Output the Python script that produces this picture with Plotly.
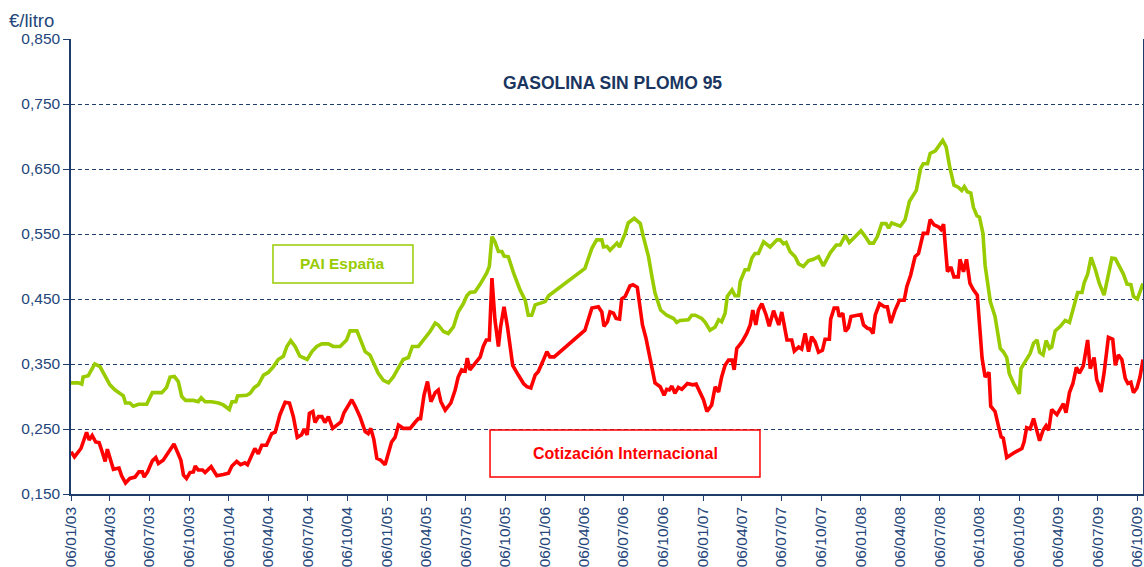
import plotly.graph_objects as go

# ---------------- data ----------------
pai_dates = [
    "2003-01-06", "2003-01-23", "2003-01-31", "2003-02-03", "2003-02-15", "2003-03-02", "2003-03-14", "2003-03-22",
    "2003-04-06", "2003-04-18", "2003-05-07", "2003-05-12", "2003-05-22", "2003-05-30", "2003-06-11", "2003-06-30",
    "2003-07-13", "2003-08-04", "2003-08-15", "2003-08-23", "2003-09-02", "2003-09-11", "2003-09-19", "2003-09-28",
    "2003-10-16", "2003-10-27", "2003-11-03", "2003-11-12", "2003-11-27", "2003-12-13", "2003-12-24",
    "2004-01-07", "2004-01-13", "2004-01-22", "2004-01-26", "2004-02-16", "2004-02-24", "2004-03-05", "2004-03-14",
    "2004-03-26", "2004-04-06", "2004-04-18", "2004-04-29", "2004-05-11", "2004-05-19", "2004-05-28", "2004-06-07",
    "2004-06-18", "2004-07-05", "2004-07-16", "2004-07-27", "2004-08-08", "2004-08-23", "2004-09-03", "2004-09-19",
    "2004-10-04", "2004-10-12", "2004-10-28", "2004-11-04", "2004-11-16", "2004-11-27", "2004-12-09", "2004-12-16",
    "2004-12-28",
    "2005-01-09", "2005-01-20", "2005-02-01", "2005-02-12", "2005-02-24", "2005-03-05", "2005-03-19", "2005-03-31",
    "2005-04-15", "2005-04-27", "2005-05-04", "2005-05-16", "2005-05-27", "2005-06-08", "2005-06-19", "2005-07-01",
    "2005-07-09", "2005-07-16", "2005-07-28", "2005-08-09", "2005-08-24", "2005-08-30", "2005-09-05", "2005-09-12",
    "2005-09-20", "2005-09-28", "2005-10-03", "2005-10-13", "2005-10-25", "2005-11-09", "2005-11-21", "2005-11-28",
    "2005-12-06", "2005-12-14",
    "2006-01-06", "2006-01-14", "2006-04-08", "2006-04-24", "2006-05-05", "2006-05-17", "2006-05-21", "2006-05-29",
    "2006-06-05", "2006-06-21", "2006-06-27", "2006-07-10", "2006-07-17", "2006-07-31", "2006-08-14", "2006-08-21",
    "2006-09-02", "2006-09-10", "2006-09-17", "2006-09-30", "2006-10-14", "2006-10-30", "2006-11-06", "2006-11-14",
    "2006-12-03", "2006-12-11", "2006-12-19",
    "2007-01-03", "2007-01-11", "2007-01-22", "2007-02-03", "2007-02-11", "2007-02-18", "2007-02-26", "2007-03-03",
    "2007-03-14", "2007-03-21", "2007-03-29", "2007-04-02", "2007-04-13", "2007-04-21", "2007-04-29", "2007-05-06",
    "2007-05-14", "2007-05-26", "2007-06-10", "2007-06-26", "2007-07-03", "2007-07-11", "2007-07-17", "2007-07-26",
    "2007-08-07", "2007-08-15", "2007-08-26", "2007-09-07", "2007-09-18", "2007-09-30", "2007-10-11", "2007-10-27",
    "2007-11-10", "2007-11-19", "2007-12-01", "2007-12-10", "2007-12-24",
    "2008-01-06", "2008-01-16", "2008-01-26", "2008-02-04", "2008-02-13", "2008-02-23", "2008-03-04", "2008-03-10",
    "2008-03-17", "2008-04-06", "2008-04-17", "2008-04-27", "2008-05-13", "2008-05-23", "2008-05-29", "2008-06-08",
    "2008-06-14", "2008-06-26", "2008-07-03", "2008-07-13", "2008-07-21", "2008-07-29", "2008-08-08", "2008-08-18",
    "2008-08-26", "2008-09-01", "2008-09-08", "2008-09-16", "2008-09-22", "2008-09-30", "2008-10-06", "2008-10-14",
    "2008-10-19", "2008-10-31", "2008-11-11", "2008-11-23", "2008-11-30", "2008-12-08", "2008-12-14", "2008-12-24",
    "2009-01-06", "2009-01-10", "2009-01-20", "2009-01-31", "2009-02-08", "2009-02-16", "2009-02-22", "2009-03-02",
    "2009-03-09", "2009-03-17", "2009-03-22", "2009-03-30", "2009-04-11", "2009-04-22", "2009-05-02", "2009-05-08",
    "2009-05-15", "2009-05-21", "2009-05-31", "2009-06-05", "2009-06-13", "2009-06-21", "2009-07-01", "2009-07-10",
    "2009-07-21", "2009-07-29", "2009-08-08", "2009-08-16", "2009-08-26", "2009-09-04", "2009-09-12", "2009-09-21",
    "2009-09-27", "2009-10-06", "2009-10-19",
]
pai_values = [
    0.321, 0.321, 0.319, 0.330, 0.332, 0.350, 0.346, 0.336,
    0.318, 0.310, 0.301, 0.290, 0.290, 0.285, 0.288, 0.288,
    0.306, 0.306, 0.314, 0.330, 0.331, 0.323, 0.300, 0.294,
    0.294, 0.292, 0.298, 0.292, 0.292, 0.290, 0.287,
    0.280, 0.292, 0.292, 0.301, 0.302, 0.305, 0.314, 0.318,
    0.333, 0.337, 0.346, 0.357, 0.362, 0.377, 0.386, 0.377,
    0.362, 0.357, 0.369, 0.377, 0.381, 0.381, 0.377, 0.377,
    0.387, 0.401, 0.401, 0.390, 0.369, 0.364, 0.348, 0.336,
    0.325,
    0.321, 0.330, 0.343, 0.357, 0.360, 0.377, 0.377, 0.387,
    0.400, 0.413, 0.410, 0.400, 0.397, 0.407, 0.430, 0.443,
    0.455, 0.460, 0.461, 0.473, 0.490, 0.500, 0.546, 0.538,
    0.523, 0.523, 0.516, 0.515, 0.490, 0.464, 0.448, 0.425,
    0.425, 0.441,
    0.446, 0.455, 0.497, 0.528, 0.541, 0.541, 0.530, 0.531,
    0.525, 0.536, 0.530, 0.551, 0.567, 0.574, 0.566, 0.546,
    0.515, 0.484, 0.459, 0.433, 0.425, 0.420, 0.414, 0.417,
    0.418, 0.425, 0.425,
    0.420, 0.414, 0.402, 0.407, 0.418, 0.415, 0.428, 0.454,
    0.464, 0.455, 0.455, 0.477, 0.495, 0.495, 0.513, 0.520,
    0.520, 0.538, 0.530, 0.541, 0.541, 0.535, 0.537, 0.523,
    0.515, 0.504, 0.500, 0.509, 0.511, 0.515, 0.501, 0.521,
    0.533, 0.533, 0.548, 0.537, 0.546,
    0.555, 0.546, 0.536, 0.536, 0.546, 0.566, 0.566, 0.559,
    0.567, 0.562, 0.572, 0.600, 0.617, 0.651, 0.658, 0.658,
    0.674, 0.678, 0.684, 0.694, 0.684, 0.654, 0.625, 0.622,
    0.617, 0.623, 0.615, 0.613, 0.591, 0.578, 0.576, 0.551,
    0.502, 0.446, 0.423, 0.374, 0.369, 0.360, 0.335, 0.320,
    0.304, 0.343, 0.354, 0.366, 0.382, 0.387, 0.368, 0.364,
    0.386, 0.374, 0.376, 0.401, 0.408, 0.417, 0.414, 0.428,
    0.441, 0.460, 0.460, 0.475, 0.488, 0.514, 0.495, 0.474,
    0.456, 0.484, 0.513, 0.512, 0.500, 0.488, 0.473, 0.472,
    0.454, 0.450, 0.474,
]

cot_dates = [
    "2003-01-06", "2003-01-14", "2003-01-29", "2003-02-06", "2003-02-11", "2003-02-17", "2003-02-24", "2003-03-04",
    "2003-03-12", "2003-03-19", "2003-03-26", "2003-03-31", "2003-04-06", "2003-04-14", "2003-04-27", "2003-05-03",
    "2003-05-12", "2003-05-22", "2003-06-03", "2003-06-12", "2003-06-20", "2003-06-24", "2003-07-02", "2003-07-13",
    "2003-07-21", "2003-07-27", "2003-08-07", "2003-08-19", "2003-09-01", "2003-09-10", "2003-09-17", "2003-09-23",
    "2003-09-30", "2003-10-08", "2003-10-16", "2003-10-20", "2003-10-27", "2003-11-06", "2003-11-12", "2003-11-26",
    "2003-12-09", "2003-12-24",
    "2004-01-05", "2004-01-13", "2004-01-24", "2004-02-02", "2004-02-12", "2004-02-18", "2004-02-24", "2004-03-06",
    "2004-03-14", "2004-03-22", "2004-04-02", "2004-04-14", "2004-04-22", "2004-05-03", "2004-05-15", "2004-05-25",
    "2004-06-03", "2004-06-12", "2004-06-22", "2004-06-28", "2004-07-05", "2004-07-10", "2004-07-18", "2004-07-23",
    "2004-07-31", "2004-08-08", "2004-08-15", "2004-08-23", "2004-09-02", "2004-09-13", "2004-09-21", "2004-09-28",
    "2004-10-08", "2004-10-16", "2004-10-24", "2004-11-04", "2004-11-16", "2004-11-23", "2004-11-29", "2004-12-06",
    "2004-12-13", "2004-12-22",
    "2005-01-01", "2005-01-09", "2005-01-16", "2005-01-24", "2005-02-01", "2005-02-12", "2005-02-28", "2005-03-11",
    "2005-03-19", "2005-03-24", "2005-04-01", "2005-04-09", "2005-04-17", "2005-04-27", "2005-05-04", "2005-05-10",
    "2005-05-20", "2005-06-02", "2005-06-12", "2005-06-19", "2005-06-27", "2005-07-05", "2005-07-10", "2005-07-16",
    "2005-07-28", "2005-08-09", "2005-08-16", "2005-08-23", "2005-08-30", "2005-09-05", "2005-09-12", "2005-09-20",
    "2005-09-25", "2005-10-03", "2005-10-11", "2005-10-23", "2005-11-05", "2005-11-17", "2005-11-25", "2005-12-04",
    "2005-12-14", "2005-12-21",
    "2006-01-02", "2006-01-10", "2006-01-17", "2006-01-27", "2006-04-08", "2006-04-24", "2006-05-09", "2006-05-17",
    "2006-05-22", "2006-05-30", "2006-06-05", "2006-06-13", "2006-06-19", "2006-06-27", "2006-07-02", "2006-07-10",
    "2006-07-21", "2006-07-28", "2006-08-07", "2006-08-19", "2006-08-27", "2006-09-07", "2006-09-17", "2006-09-29",
    "2006-10-08", "2006-10-14", "2006-10-20", "2006-10-26", "2006-11-02", "2006-11-10", "2006-11-18", "2006-12-01",
    "2006-12-13", "2006-12-21",
    "2007-01-07", "2007-01-15", "2007-01-26", "2007-02-03", "2007-02-11", "2007-02-18", "2007-02-26", "2007-03-06",
    "2007-03-14", "2007-03-19", "2007-03-25", "2007-04-06", "2007-04-17", "2007-04-25", "2007-05-01", "2007-05-08",
    "2007-05-14", "2007-05-22", "2007-06-01", "2007-06-08", "2007-06-18", "2007-06-30", "2007-07-07", "2007-07-19",
    "2007-07-30", "2007-08-05", "2007-08-15", "2007-08-22", "2007-08-30", "2007-09-07", "2007-09-14", "2007-09-22",
    "2007-09-30", "2007-10-09", "2007-10-15", "2007-10-25", "2007-10-28", "2007-11-05", "2007-11-13", "2007-11-17",
    "2007-11-25", "2007-12-01", "2007-12-08", "2007-12-14",
    "2008-01-06", "2008-01-12", "2008-01-21", "2008-01-27", "2008-02-03", "2008-02-08", "2008-02-18", "2008-02-29",
    "2008-03-07", "2008-03-15", "2008-03-25", "2008-04-04", "2008-04-15", "2008-04-21", "2008-04-30", "2008-05-10",
    "2008-05-18", "2008-05-29", "2008-06-08", "2008-06-14", "2008-06-23", "2008-07-03", "2008-07-09", "2008-07-15",
    "2008-07-24", "2008-08-01", "2008-08-08", "2008-08-18", "2008-08-22", "2008-08-30", "2008-09-06", "2008-09-14",
    "2008-09-22", "2008-10-01", "2008-10-06", "2008-10-12", "2008-10-19", "2008-10-28", "2008-11-01", "2008-11-11",
    "2008-11-19", "2008-11-25", "2008-11-30", "2008-12-08", "2008-12-24",
    "2009-01-04", "2009-01-12", "2009-01-17", "2009-01-23", "2009-01-31", "2009-02-08", "2009-02-22", "2009-03-02",
    "2009-03-09", "2009-03-15", "2009-03-22", "2009-04-03", "2009-04-18", "2009-04-24", "2009-05-02", "2009-05-10",
    "2009-05-18", "2009-05-25", "2009-06-03", "2009-06-13", "2009-06-19", "2009-06-28", "2009-07-04", "2009-07-14",
    "2009-07-21", "2009-07-31", "2009-08-10", "2009-08-16", "2009-08-23", "2009-08-31", "2009-09-08", "2009-09-14",
    "2009-09-21", "2009-09-27", "2009-10-05", "2009-10-12", "2009-10-19",
]
cot_values = [
    0.215, 0.207, 0.220, 0.236, 0.245, 0.233, 0.240, 0.230,
    0.229, 0.215, 0.200, 0.219, 0.207, 0.188, 0.190, 0.178,
    0.167, 0.174, 0.176, 0.184, 0.184, 0.176, 0.184, 0.201,
    0.206, 0.197, 0.202, 0.214, 0.227, 0.213, 0.202, 0.179,
    0.174, 0.183, 0.184, 0.193, 0.187, 0.187, 0.183, 0.192,
    0.178, 0.180,
    0.182, 0.193, 0.200, 0.195, 0.198, 0.195, 0.204, 0.220,
    0.212, 0.225, 0.225, 0.243, 0.245, 0.272, 0.291, 0.290,
    0.269, 0.237, 0.241, 0.250, 0.241, 0.274, 0.277, 0.260,
    0.269, 0.269, 0.260, 0.269, 0.251, 0.256, 0.261, 0.275,
    0.287, 0.295, 0.285, 0.269, 0.246, 0.243, 0.251, 0.234,
    0.205, 0.202,
    0.195, 0.215, 0.230, 0.237, 0.256, 0.251, 0.251, 0.260,
    0.266, 0.266, 0.302, 0.323, 0.292, 0.306, 0.310, 0.292,
    0.279, 0.290, 0.310, 0.330, 0.341, 0.339, 0.359, 0.341,
    0.351, 0.361, 0.377, 0.387, 0.387, 0.482, 0.418, 0.377,
    0.407, 0.438, 0.407, 0.348, 0.333, 0.320, 0.315, 0.313,
    0.333, 0.338,
    0.356, 0.369, 0.361, 0.361, 0.402, 0.436, 0.438, 0.430,
    0.408, 0.415, 0.430, 0.428, 0.420, 0.419, 0.450, 0.454,
    0.470, 0.472, 0.468, 0.410, 0.390, 0.351, 0.321, 0.315,
    0.302, 0.311, 0.310, 0.316, 0.305, 0.314, 0.311, 0.320,
    0.318, 0.319,
    0.295, 0.277, 0.287, 0.315, 0.307, 0.330, 0.348, 0.356,
    0.356, 0.341, 0.374, 0.384, 0.397, 0.410, 0.433, 0.410,
    0.433, 0.443, 0.425, 0.408, 0.432, 0.410, 0.430, 0.387,
    0.387, 0.370, 0.376, 0.373, 0.397, 0.369, 0.392, 0.384,
    0.368, 0.371, 0.388, 0.388, 0.419, 0.436, 0.436, 0.423,
    0.428, 0.400, 0.406, 0.423,
    0.426, 0.410, 0.405, 0.404, 0.397, 0.425, 0.443, 0.438,
    0.438, 0.413, 0.433, 0.448, 0.448, 0.469, 0.487, 0.515,
    0.520, 0.551, 0.551, 0.572, 0.564, 0.561, 0.557, 0.565,
    0.492, 0.499, 0.484, 0.484, 0.511, 0.492, 0.511, 0.474,
    0.464, 0.456, 0.418, 0.359, 0.330, 0.337, 0.285, 0.277,
    0.254, 0.238, 0.236, 0.206, 0.213,
    0.218, 0.220, 0.230, 0.252, 0.250, 0.266, 0.232, 0.248,
    0.255, 0.248, 0.280, 0.272, 0.289, 0.275, 0.306, 0.320,
    0.345, 0.336, 0.347, 0.387, 0.343, 0.360, 0.326, 0.307,
    0.336, 0.391, 0.388, 0.348, 0.364, 0.357, 0.328, 0.320,
    0.322, 0.306, 0.313, 0.330, 0.357,
]

tick_dates = [
    "2003-01-06", "2003-04-06", "2003-07-06", "2003-10-06",
    "2004-01-06", "2004-04-06", "2004-07-06", "2004-10-06",
    "2005-01-06", "2005-04-06", "2005-07-06", "2005-10-06",
    "2006-01-06", "2006-04-06", "2006-07-06", "2006-10-06",
    "2007-01-06", "2007-04-06", "2007-07-06", "2007-10-06",
    "2008-01-06", "2008-04-06", "2008-07-06", "2008-10-06",
    "2009-01-06", "2009-04-06", "2009-07-06", "2009-10-06",
]
tick_labels = [
    "06/01/03", "06/04/03", "06/07/03", "06/10/03",
    "06/01/04", "06/04/04", "06/07/04", "06/10/04",
    "06/01/05", "06/04/05", "06/07/05", "06/10/05",
    "06/01/06", "06/04/06", "06/07/06", "06/10/06",
    "06/01/07", "06/04/07", "06/07/07", "06/10/07",
    "06/01/08", "06/04/08", "06/07/08", "06/10/08",
    "06/01/09", "06/04/09", "06/07/09", "06/10/09",
]
y_ticks = [0.150, 0.250, 0.350, 0.450, 0.550, 0.650, 0.750, 0.850]

title_text = "GASOLINA SIN PLOMO 95"
unit_text = "€/litro"
pai_name = "PAI España"
cot_name = "Cotización Internacional"

# ---------------- styles ----------------
NAVY = "#1F3D6B"
TEXT = "#24467A"
GREEN = "#99CC00"
RED = "#FF0000"
FONT = "Liberation Sans, Arial, sans-serif"

fig = go.Figure()
fig.add_trace(go.Scatter(x=pai_dates, y=pai_values, mode="lines", name=pai_name,
                         line=dict(color=GREEN, width=3.6)))
fig.add_trace(go.Scatter(x=cot_dates, y=cot_values, mode="lines", name=cot_name,
                         line=dict(color=RED, width=3.6)))

fig.update_layout(
    width=1144, height=567,
    margin=dict(l=71, r=1, t=39, b=73, autoexpand=False),
    paper_bgcolor="white", plot_bgcolor="white",
    showlegend=False,
    separators=",.",
    font=dict(family=FONT, color=TEXT),
)

fig.update_xaxes(
    type="date",
    range=["2003-01-06", "2009-10-19"],
    tickvals=tick_dates, ticktext=tick_labels,
    tickangle=-90,
    ticklabeloverflow="allow",
    tickfont=dict(size=15.5, color=TEXT, family=FONT),
    showgrid=False, zeroline=False,
    showline=True, linecolor=NAVY, linewidth=1.5,
    ticks="outside", ticklen=5, tickcolor=NAVY, tickwidth=1.2,
)
fig.update_yaxes(
    range=[0.150, 0.850],
    tickvals=y_ticks, tickformat=".3f",
    tickfont=dict(size=15.5, color=TEXT, family=FONT),
    showgrid=True, gridcolor=NAVY, gridwidth=1, griddash="4px,3px",
    zeroline=False,
    showline=True, linecolor=NAVY, linewidth=1.5, mirror=True,
    ticks="outside", ticklen=6, tickcolor=NAVY, tickwidth=1.2,
)

# title & unit
fig.add_annotation(text="<b>" + title_text + "</b>", xref="paper", yref="paper",
                   x=0.5047, y=0.9033, xanchor="center", yanchor="middle", showarrow=False,
                   font=dict(size=17.5, color="#1A3560", family=FONT))
fig.add_annotation(text=unit_text, xref="paper", yref="paper",
                   x=-0.0597, y=1.0396, xanchor="left", yanchor="middle", showarrow=False,
                   font=dict(size=18.5, color=TEXT, family=FONT))

# label boxes
fig.add_shape(type="rect", xref="paper", yref="paper", x0=0.1884, x1=0.3190, y0=0.4637, y1=0.5470,
              line=dict(color=GREEN, width=1.5), fillcolor="white", layer="above")
fig.add_annotation(text="<b>" + pai_name + "</b>", xref="paper", yref="paper",
                   x=0.2537, y=0.5055, xanchor="center", yanchor="middle", showarrow=False,
                   font=dict(size=15.5, color=GREEN, family=FONT))
fig.add_shape(type="rect", xref="paper", yref="paper", x0=0.3909, x1=0.6427, y0=0.0374, y1=0.1407,
              line=dict(color=RED, width=1.5), fillcolor="white", layer="above")
fig.add_annotation(text="<b>" + cot_name + "</b>", xref="paper", yref="paper",
                   x=0.5168, y=0.0901, xanchor="center", yanchor="middle", showarrow=False,
                   font=dict(size=16, color=RED, family=FONT))

fig.write_html("out.html", config={"displayModeBar": False},
               post_script="document.body.style.margin='0';document.body.style.overflow='hidden';")
